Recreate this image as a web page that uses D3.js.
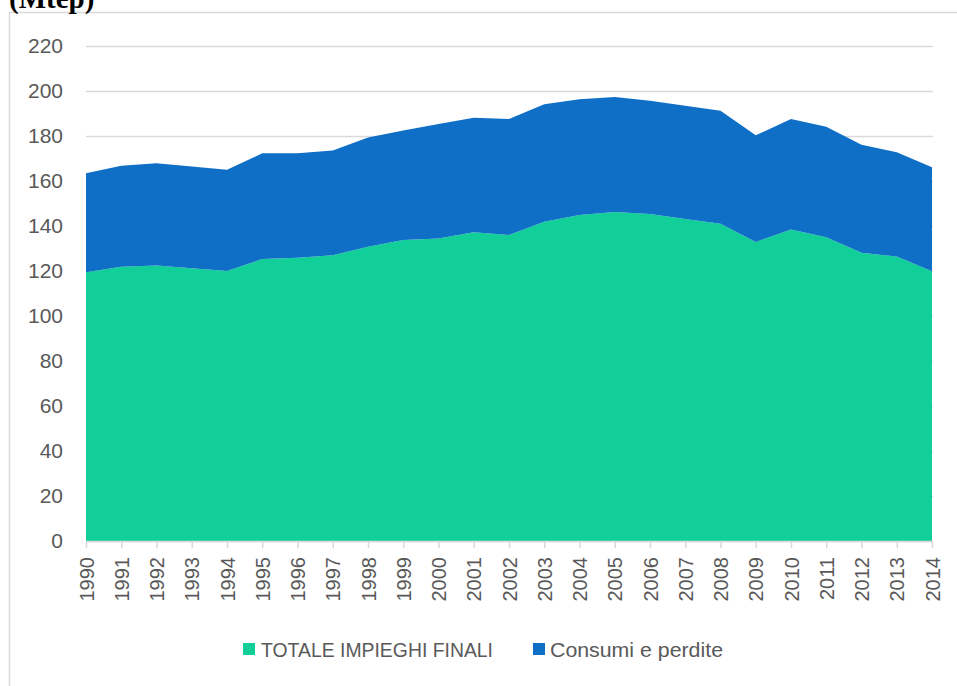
<!DOCTYPE html>
<html>
<head>
<meta charset="utf-8">
<script src="https://cdn.jsdelivr.net/npm/d3@7"></script>
<style>
  html, body { margin: 0; padding: 0; background: #fff; }
  svg { display: block; }
</style>
</head>
<body>
<div id="chart"></div>
<script>
// data (Mtep)
const years = [1990, 1991, 1992, 1993, 1994, 1995, 1996, 1997, 1998, 1999, 2000, 2001,
  2002, 2003, 2004, 2005, 2006, 2007, 2008, 2009, 2010, 2011, 2012, 2013, 2014];
const impieghiFinali = [119.4, 121.9, 122.5, 121.2, 120.0, 125.3, 125.9, 127.0, 130.8, 133.8,
  134.4, 137.2, 136.0, 141.9, 144.9, 146.2, 145.3, 143.1, 141.0, 132.9, 138.4, 135.0, 128.1, 126.4, 119.9];
const consumiPerdite = [44.0, 44.9, 45.4, 45.2, 45.0, 47.0, 46.4, 46.6, 48.5, 48.6,
  50.9, 50.9, 51.6, 52.2, 51.4, 51.1, 50.4, 50.4, 50.2, 47.4, 49.2, 49.1, 48.0, 46.4, 46.2];
const yTicks = [0, 20, 40, 60, 80, 100, 120, 140, 160, 180, 200, 220];
const seriesNames = ['TOTALE IMPIEGHI FINALI', 'Consumi e perdite'];
const seriesColors = ['#12cf9a', '#0f6fc6'];

const width = 957, height = 686;
const margin = {left: 86, right: 24, top: 46, bottom: 145};

const svg = d3.select('#chart').append('svg')
  .attr('width', width)
  .attr('height', height);

// chart frame (cut off right and bottom)
svg.append('rect')
  .attr('x', 9.5).attr('y', 12.5)
  .attr('width', 1000).attr('height', 1000)
  .attr('fill', 'none')
  .attr('stroke', '#d9d9d9')
  .attr('stroke-width', 1.5);

svg.append('text')
  .attr('x', 9).attr('y', 8)
  .attr('font-family', '"Liberation Serif", serif')
  .attr('font-weight', 'bold')
  .attr('font-size', 29)
  .attr('fill', '#000')
  .text('(Mtep)');

const x = d3.scalePoint()
  .domain(years)
  .range([margin.left, width - margin.right - 1]);

const y = d3.scaleLinear()
  .domain([0, 220])
  .range([height - margin.bottom, margin.top]);

const rows = years.map((yr, i) => ({year: yr, a: impieghiFinali[i], b: consumiPerdite[i]}));
const stacked = d3.stack().keys(['a', 'b'])(rows);

// y axis + gridlines
const yAxis = svg.append('g')
  .attr('transform', `translate(${margin.left},0)`)
  .call(d3.axisLeft(y)
    .tickValues(yTicks)
    .tickSize(-(x.range()[1] - margin.left + 1))
    .tickPadding(23));
yAxis.select('.domain').remove();
yAxis.selectAll('line')
  .attr('stroke', '#d9d9d9')
  .attr('stroke-width', 1.5);
yAxis.selectAll('text')
  .attr('font-family', '"Liberation Sans", Arial, sans-serif')
  .attr('font-size', 21)
  .attr('fill', '#595959');

// stacked areas
const area = d3.area()
  .x(d => x(d.data.year))
  .y0(d => y(d[0]))
  .y1(d => y(d[1]));

svg.append('g').selectAll('path')
  .data(stacked)
  .enter()
  .append('path')
  .attr('d', area)
  .attr('fill', (d, i) => seriesColors[i]);

// x axis
const xAxis = svg.append('g')
  .attr('transform', `translate(0,${y(0)})`)
  .call(d3.axisBottom(x).tickSizeInner(7).tickSizeOuter(0));
xAxis.select('.domain')
  .attr('stroke', '#d9d9d9')
  .attr('stroke-width', 1.5);
xAxis.selectAll('line')
  .attr('stroke', '#d9d9d9')
  .attr('stroke-width', 1.5);
xAxis.selectAll('text')
  .attr('transform', 'rotate(-90)')
  .attr('x', -16)
  .attr('y', 0)
  .attr('dy', '0.35em')
  .attr('text-anchor', 'end')
  .attr('font-family', '"Liberation Sans", Arial, sans-serif')
  .attr('font-size', 20)
  .attr('fill', '#595959');

// legend
const legendPos = [{sx: 243, tx: 261, len: 232}, {sx: 533, tx: 550, len: 173}];
const legend = svg.append('g').selectAll('g')
  .data(seriesNames)
  .enter()
  .append('g');
legend.append('rect')
  .attr('x', (d, i) => legendPos[i].sx)
  .attr('y', 643)
  .attr('width', 12)
  .attr('height', 12)
  .attr('fill', (d, i) => seriesColors[i]);
legend.append('text')
  .attr('x', (d, i) => legendPos[i].tx)
  .attr('y', 657)
  .attr('textLength', (d, i) => legendPos[i].len)
  .attr('lengthAdjust', 'spacingAndGlyphs')
  .attr('font-family', '"Liberation Sans", Arial, sans-serif')
  .attr('font-size', 20.5)
  .attr('fill', '#595959')
  .text(d => d);
</script>
</body>
</html>
